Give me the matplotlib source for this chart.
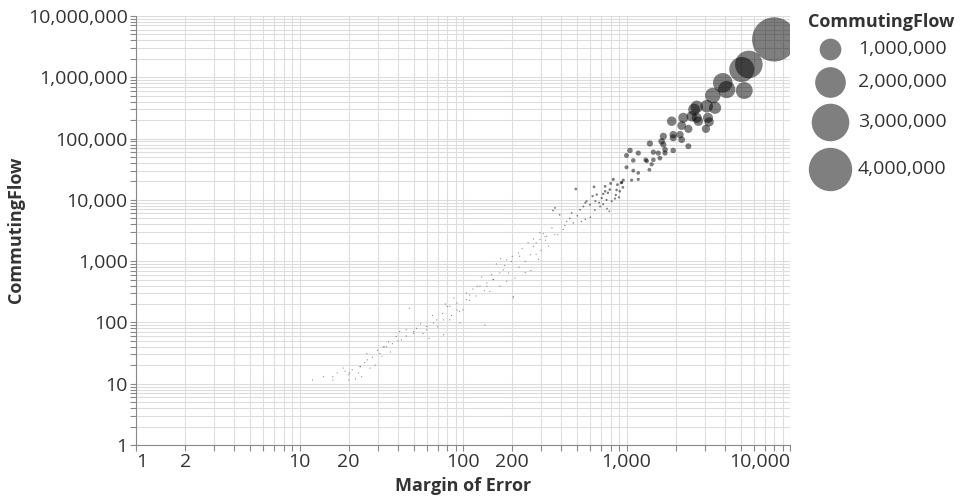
import numpy as np
import matplotlib.pyplot as plt
from matplotlib.ticker import FixedLocator, FuncFormatter

# Margin of error vs commuting flow
margin = [
    8000, 5600, 5070, 5250, 3880, 4100, 3370, 3480, 2690, 2590,
    2225, 2690, 3150, 3095, 2505, 1890, 2750, 3200, 2175, 2390,
    3060, 1930, 2125, 2175, 1930, 1680, 1640, 1680, 2390, 1390,
    1720, 1930, 1460, 1565, 1180, 1050, 1000, 1330, 1310, 1460,
    1100, 1720, 1600, 1425, 1380, 1180, 1100, 1000, 1075, 1180,
    955, 930,
    490, 633, 740, 830, 880, 935, 740, 790, 770, 658,
    705, 755, 812, 645, 598, 545, 690, 785, 520, 462,
    431, 473, 530, 365, 355, 390, 410, 365, 310, 570,
    910, 860, 900, 950, 620, 560, 680, 720, 850, 760,
    640, 500, 450, 600, 560, 720, 800, 870,
    296, 317, 380, 280, 333, 218, 258, 198, 240, 290,
    176, 190, 208, 153, 140, 122, 168, 203, 110, 146,
    350, 420, 270, 230, 300, 250, 200, 180, 160, 220,
    260, 150, 130, 170, 280, 240, 135, 115, 185, 320,
    136, 203,
    105, 127, 92, 80, 100, 69, 83, 60, 50, 41,
    57, 47, 96, 76, 37, 88, 75, 65, 110, 95,
    55, 45, 70, 62, 85, 120, 78, 52, 40, 33,
    20, 23, 27, 31, 39, 45, 16, 12, 18.5, 23.5,
    34, 26, 14, 17, 20, 22, 25, 28, 30, 35,
    29, 21, 24, 19, 36, 42, 32,
    185, 140, 105, 83, 76, 60, 50, 270, 296, 325,
    222, 153, 168, 92, 66, 32.5, 25.8, 23.5, 20.3, 16,
]
flow = [
    4150000, 1620000, 1340000, 608000, 813000, 631000, 505000, 318000, 330000, 298000,
    218000, 218000, 218000, 337000, 231000, 192000, 192000, 187000, 163000, 144000,
    144000, 116000, 116000, 96000, 103000, 109000, 90000, 80000, 75000, 83000,
    66000, 64000, 60000, 58000, 58000, 64000, 53000, 43000, 45000, 45000,
    44000, 58000, 48000, 38000, 31000, 27500, 30000, 34000, 21000, 21600,
    21000, 19000,
    15000, 16300, 16600, 21600, 17700, 19200, 13800, 14700, 13000, 12200,
    10700, 10000, 9500, 9500, 8350, 7800, 7800, 6500, 6900, 6100,
    4450, 4200, 4450, 7400, 6700, 5700, 3300, 2700, 2800, 9500,
    13800, 12000, 11000, 16000, 11500, 9000, 9000, 8500, 10500, 7200,
    6800, 5500, 5000, 5200, 4800, 12500, 18500, 14500,
    2900, 2500, 2700, 1980, 1750, 1360, 1270, 990, 990, 1070,
    723, 640, 530, 500, 440, 390, 390, 265, 280, 320,
    3500, 3800, 2300, 1600, 1500, 2000, 1200, 850, 900, 800,
    700, 600, 550, 1100, 1300, 650, 330, 350, 470, 2200,
    91, 250,
    300, 390, 207, 183, 160, 110, 110, 76, 71, 71,
    66, 170, 98, 63, 45, 250, 140, 130, 230, 150,
    95, 60, 85, 55, 130, 270, 200, 80, 50, 40,
    11.5, 15, 18, 31, 59, 76, 11.5, 11.5, 18, 19,
    40, 24.5, 13, 15, 14, 12, 22, 27, 35, 48,
    20, 17, 13, 16, 33, 52, 28,
    1050, 390, 235, 183, 110, 86, 66, 1750, 2250, 2550,
    1200, 500, 640, 160, 98, 40, 31, 19, 15, 13,
]

legend_values = [1000000, 2000000, 3000000, 4000000]
x_labelled = [1, 2, 10, 20, 100, 200, 1000, 10000]
y_labelled = [1, 10, 100, 1000, 10000, 100000, 1000000, 10000000]

SIZE_K = 2.44e-4  # points^2 per unit of flow (area scale)
GRID = "#dddddd"
DOMAIN = "#888888"
TEXT = "#333333"

plt.rcParams['font.family'] = ['Open Sans', 'DejaVu Sans']

fig = plt.figure(figsize=(9.6, 5), dpi=100)
ax = fig.add_axes([136 / 960, 55 / 500, 654 / 960, 429 / 500])

ax.set_xscale("log")
ax.set_yscale("log")
ax.set_xlim(1, 10000)
ax.set_ylim(1, 10000000)

sizes = np.maximum(np.array(flow) * SIZE_K, 0.7)
ax.scatter(margin, flow, s=sizes, c="black", alpha=0.5, linewidths=0, zorder=3)

x_grid = [m * 10 ** e for e in range(0, 4) for m in range(1, 10)] + [10000]
y_grid = [m * 10 ** e for e in range(0, 7) for m in range(1, 10)] + [10000000]
ax.xaxis.set_major_locator(FixedLocator(x_grid))
ax.yaxis.set_major_locator(FixedLocator(y_grid))
ax.xaxis.set_minor_locator(FixedLocator([]))
ax.yaxis.set_minor_locator(FixedLocator([]))


def fmt_x(v, pos):
    return f"{int(round(v)):,}" if int(round(v)) in x_labelled else ""


def fmt_y(v, pos):
    return f"{int(round(v)):,}" if int(round(v)) in y_labelled else ""


ax.xaxis.set_major_formatter(FuncFormatter(fmt_x))
ax.yaxis.set_major_formatter(FuncFormatter(fmt_y))
ax.grid(True, color=GRID, linewidth=0.8, zorder=0)
ax.set_axisbelow(True)

for side in ["top", "right"]:
    ax.spines[side].set_visible(False)
for side in ["bottom", "left"]:
    ax.spines[side].set_color(DOMAIN)
    ax.spines[side].set_linewidth(0.8)

ax.tick_params(axis="both", length=4, width=0.8, color=DOMAIN, labelsize=14,
               labelcolor=TEXT, pad=2)

ax.set_xlabel("Margin of Error", fontsize=13, fontweight="bold", color=TEXT, labelpad=4)
ax.set_ylabel("CommutingFlow", fontsize=13, fontweight="bold", color=TEXT,
              va="center")
ax.yaxis.set_label_coords(-120 / 654, (445 - 230) / 429)

# flush first / last x labels like the original
fig.canvas.draw()
xlabels = [t for t in ax.get_xticklabels() if t.get_text()]
xlabels[0].set_horizontalalignment("left")
xlabels[-1].set_horizontalalignment("right")

# size legend
fig.text(808 / 960, 1 - 22 / 500, "CommutingFlow", fontsize=13, fontweight="bold",
         color=TEXT, va="center", ha="left")
leg_ax = fig.add_axes([800 / 960, 0, 160 / 960, 1])
leg_ax.set_xlim(0, 160)
leg_ax.set_ylim(500, 0)
leg_ax.axis("off")
leg_rows = [49, 82, 122, 169]
for val, yy in zip(legend_values, leg_rows):
    leg_ax.scatter([30], [yy], s=val * SIZE_K, c="black", alpha=0.5, linewidths=0)
    leg_ax.text(58, yy, f"{val:,}", fontsize=14, color=TEXT, va="center", ha="left")

fig.savefig("out.png", dpi=100)
